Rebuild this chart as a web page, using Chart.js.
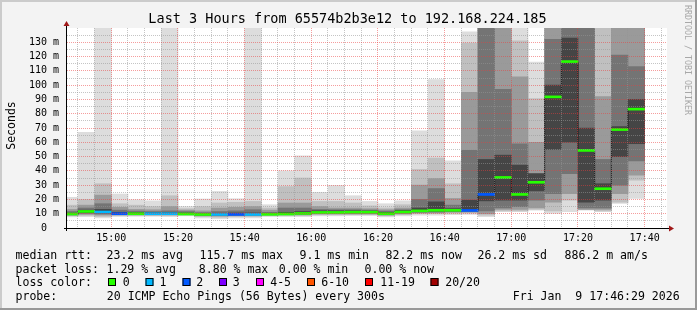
<!DOCTYPE html>
<html><head><meta charset="utf-8">
<script src="https://cdn.jsdelivr.net/npm/chart.js@4.4.1/dist/chart.umd.min.js"></script>
<style>html,body{margin:0;padding:0;background:#f3f3f3;overflow:hidden}canvas{display:block}</style>
</head><body>
<canvas id="c" width="697" height="310"></canvas>
<script>
// ---- data ----
const times = ['14:50','14:55','15:00','15:05','15:10','15:15','15:20','15:25','15:30','15:35','15:40','15:45',
  '15:50','15:55','16:00','16:05','16:10','16:15','16:20','16:25','16:30','16:35','16:40','16:45',
  '16:50','16:55','17:00','17:05','17:10','17:15','17:20','17:25','17:30','17:35','17:40'];
const minRtt = [7.8,8.0,7.0,8.0,8.2,8.2,8.0,8.5,7.0,6.5,7.0,7.0,8.0,8.0,8.0,8.5,8.5,8.7,8.7,7.8,8.5,9.0,9.0,9.3,9.5,8.0,11.4,11.4,12.5,10.2,11.4,12.5,11.4,17.2,20.7];
const lo1 = [8.5,8.8,8.0,8.8,8.8,8.8,8.8,9.0,8.0,7.5,8.0,8.0,8.6,8.8,8.7,9.2,9.2,9.3,9.3,8.5,9.3,10.0,10.0,10.3,10.3,9.0,12.0,12.0,13.0,12.0,19.5,12.8,12.0,18.0,33.5];
const lo2 = [9.0,9.5,9.0,9.2,9.2,9.2,9.2,9.3,8.5,8.3,8.6,8.6,9.0,9.2,9.2,9.8,9.8,9.8,9.8,9.0,9.9,10.5,10.6,11.0,11.0,10.0,13.0,13.0,14.0,18.0,24.0,13.0,13.0,24.0,37.0];
const lo3 = [9.3,10.2,9.8,9.6,9.6,9.6,9.5,9.5,8.9,8.8,9.0,9.0,9.3,9.5,9.6,10.3,10.3,10.3,10.3,9.4,10.4,11.0,11.2,11.5,11.6,12.0,14.0,15.0,19.5,24.0,38.0,14.0,14.0,30.0,47.0];
const lo4 = [9.6,10.8,10.5,9.8,9.8,9.8,9.8,9.7,9.2,9.2,9.3,9.3,9.5,9.7,10.0,10.7,10.7,10.8,10.8,9.7,10.8,11.5,11.8,12.0,12.0,19.0,19.5,19.5,26.0,55.0,60.0,18.0,19.5,50.0,59.0];
const median = [9.8,11.6,11.2,10.0,10.0,10.0,10.0,9.8,9.5,9.5,9.5,9.5,9.6,9.8,10.2,10.9,10.9,11.1,11.1,10.0,11.2,12.0,12.4,12.4,12.3,23.5,35.4,23.5,32.0,91.8,116.5,54.3,27.5,68.9,83.2];
const hi4 = [10.4,12.5,13.0,11.0,10.8,10.8,10.8,10.5,10.0,10.3,10.5,10.5,10.3,11.0,11.5,12.0,12.0,12.0,11.8,11.0,12.2,14.0,18.3,13.5,19.5,48.0,51.0,44.0,38.0,100.0,133.0,70.0,31.0,71.0,90.0];
const hi3 = [11.5,14.0,17.0,12.5,11.8,11.5,12.0,11.5,10.8,11.5,12.0,12.8,11.0,14.0,14.0,13.0,12.8,12.8,12.5,11.8,12.8,20.0,27.6,16.0,54.4,148.0,97.0,59.0,38.2,132.0,148.0,148.0,48.0,121.0,113.0];
const hi2 = [13.0,16.0,23.0,14.5,13.0,12.8,15.0,12.5,12.0,14.0,14.5,15.0,12.5,17.5,17.5,15.0,14.0,14.0,13.5,12.8,14.0,30.0,34.6,20.7,95.0,149.0,148.0,105.8,60.0,148.5,149.0,149.0,92.0,148.0,148.0];
const hi1 = [16.0,20.0,31.0,17.0,16.0,15.0,22.6,13.5,15.0,17.5,18.0,18.6,14.0,29.0,35.0,18.6,18.6,17.5,15.5,14.0,16.3,41.0,49.0,31.0,129.5,149.5,149.0,131.0,90.6,149.0,149.5,149.5,149.0,149.0,149.0];
const maxRtt = [21.5,67.0,150.0,23.8,19.8,19.0,150.0,15.0,20.3,25.6,20.5,150.0,16.3,40.0,50.6,25.0,29.8,22.6,18.6,17.0,19.0,68.0,103.9,47.0,137.3,150.0,150.0,150.0,116.2,150.0,150.0,150.0,150.0,150.0,150.0];
const lossIdx = [0,0,1,2,0,1,1,0,0,1,2,1,0,0,0,0,0,0,0,0,0,0,0,0,2,2,0,0,0,0,0,0,0,0,0];
const lossLabels = ['0','1','2','3','4-5','6-10','11-19','20/20'];
const lossColors = ['#26ff00','#00b8ff','#0059ff','#7e00ff','#ff00ff','#ff5500','#ff0000','#a10000'];
const xTickLabels = ['15:00','15:20','15:40','16:00','16:20','16:40','17:00','17:20','17:40'];
const yTickLabels = ['0  ','10 m','20 m','30 m','40 m','50 m','60 m','70 m','80 m','90 m','100 m','110 m','120 m','130 m'];
const titleText = 'Last 3 Hours from 65574b2b3e12 to 192.168.224.185';
const rowRtt = ['median rtt:','23.2 ms avg','115.7 ms max','9.1 ms min','82.2 ms now','26.2 ms sd','886.2 m am/s'];
const rowLoss = ['packet loss:','1.29 % avg','8.80 % max','0.00 % min','0.00 % now'];
const rowProbe = ['probe:','20 ICMP Echo Pings (56 Bytes) every 300s','Fri Jan  9 17:46:29 2026'];

// ---- layout / style ----
const MONO = '"DejaVu Sans Mono", monospace';
const X_MIN = 886.7, X_MAX = 1066.7, Y_MAX = 140;
const MAJ = 'rgba(235,60,60,0.5)', MIN = 'rgba(150,150,150,0.55)';
const bandColors = ['#dddddd','#c0c0c0','#9a9a9a','#747474','#454545'];

const toMin = s => { const p = s.split(':').map(Number); return p[0]*60 + p[1]; };
const fmt = v => String(Math.floor(v/60)).padStart(2,'0') + ':' + String(v%60).padStart(2,'0');
const tEnd = times.map(toMin);
const ctr = tEnd.map(t => t - 2.5);

function band(lo, hi, color, order) {
  return { type:'bar', data: ctr.map((x,k)=>({x, y:[lo[k], hi[k]]})), backgroundColor: color,
    borderWidth:0, grouped:false, barPercentage:1, categoryPercentage:1, order };
}
const datasets = [
  band(minRtt, maxRtt, bandColors[0], 7),
  band(lo1, hi1, bandColors[1], 6),
  band(lo2, hi2, bandColors[2], 5),
  band(lo3, hi3, bandColors[3], 4),
  band(lo4, hi4, bandColors[4], 3),
  { type:'line', data: tEnd.map((x,k)=>({x, y: median[k]})), stepped:'after', borderColor:'#202020',
    borderWidth:1, pointRadius:0, fill:false, order:2 },
  { type:'bar', data: ctr.map((x,k)=>({x, y:[median[k]-0.7, median[k]+0.7]})),
    backgroundColor: lossIdx.map(i => lossColors[i]), borderWidth:0, grouped:false,
    barPercentage:1, categoryPercentage:1, order:1 }
];

const deco = {
  id:'deco',
  beforeDraw(chart) {
    const {ctx, chartArea:a} = chart;
    ctx.save();
    ctx.fillStyle = '#f3f3f3'; ctx.fillRect(0,0,697,310);
    ctx.fillStyle = '#cbcbcb'; ctx.fillRect(0,0,697,2); ctx.fillRect(0,0,2,310);
    ctx.fillStyle = '#999999'; ctx.fillRect(0,308,697,2); ctx.fillRect(695,0,2,310);
    ctx.fillStyle = '#ffffff'; ctx.fillRect(a.left, a.top, a.right-a.left, a.bottom-a.top);
    ctx.restore();
  },
  afterDatasetsDraw(chart) {
    // dotted grid on top of the smoke, at the scales' own tick positions
    const {ctx, chartArea:a, scales:{x, y}} = chart;
    ctx.save();
    ctx.lineWidth = 1; ctx.setLineDash([1,1]);
    for (let v = Math.ceil(X_MIN/5)*5; v < X_MAX; v += 5) {
      const px = Math.floor(x.getPixelForValue(v)) + 0.5;
      ctx.strokeStyle = v % 20 === 0 ? MAJ : MIN;
      ctx.beginPath(); ctx.moveTo(px, a.top); ctx.lineTo(px, a.bottom); ctx.stroke();
    }
    for (let v = 5; v < Y_MAX; v += 5) {
      const py = Math.round(y.getPixelForValue(v) - 0.5) + 0.5;
      ctx.strokeStyle = v % 10 === 0 ? MAJ : MIN;
      ctx.beginPath(); ctx.moveTo(a.left, py); ctx.lineTo(a.right, py); ctx.stroke();
    }
    ctx.restore();
  },
  afterDraw(chart) {
    const {ctx, chartArea:a} = chart;
    ctx.save();
    ctx.strokeStyle = '#000'; ctx.lineWidth = 1;
    ctx.beginPath();
    ctx.moveTo(a.left - 0.5, a.bottom + 3); ctx.lineTo(a.left - 0.5, a.top - 3);
    ctx.moveTo(a.left - 3, a.bottom + 0.5); ctx.lineTo(a.right + 3, a.bottom + 0.5);
    ctx.stroke();
    ctx.fillStyle = '#a01818';
    ctx.beginPath();
    ctx.moveTo(a.left - 0.5, a.top - 7); ctx.lineTo(a.left - 3.5, a.top - 2); ctx.lineTo(a.left + 2.5, a.top - 2); ctx.closePath(); ctx.fill();
    ctx.beginPath();
    ctx.moveTo(a.right + 7, a.bottom + 0.5); ctx.lineTo(a.right + 2, a.bottom - 2.5); ctx.lineTo(a.right + 2, a.bottom + 3.5); ctx.closePath(); ctx.fill();
    ctx.fillStyle = '#000';
    ctx.textBaseline = 'alphabetic';
    ctx.font = '13.5px ' + MONO; ctx.textAlign = 'center';
    ctx.fillText(titleText, 347.5, 23.3);
    ctx.save(); ctx.translate(14.5, 125.5); ctx.rotate(-Math.PI/2);
    ctx.font = '11.5px ' + MONO; ctx.fillText('Seconds', 0, 0); ctx.restore();
    ctx.save(); ctx.translate(685, 60); ctx.rotate(Math.PI/2);
    ctx.fillStyle = '#a8a8a8'; ctx.font = '8.3px ' + MONO; ctx.fillText('RRDTOOL / TOBI OETIKER', 0, 0); ctx.restore();
    ctx.textAlign = 'left'; ctx.font = '11.55px ' + MONO; ctx.fillStyle = '#000';
    const r1x = [15.5, 106.5, 199.5, 299.5, 385.5, 477.5, 564.5];
    rowRtt.forEach((s,i) => ctx.fillText(s, r1x[i], 258.5));
    const r2x = [15.5, 106.5, 198.8, 278.8, 364.5];
    rowLoss.forEach((s,i) => ctx.fillText(s, r2x[i], 272.5));
    ctx.fillText('loss color:', 15.5, 286.2);
    const boxX = [108, 145.5, 182.5, 219, 256, 307, 365, 430.5];
    const labX = [122.8, 159.5, 196.2, 232.8, 270.2, 321.2, 380.2, 445.2];
    lossLabels.forEach((s,i) => {
      ctx.fillStyle = lossColors[i]; ctx.fillRect(boxX[i], 278, 8, 8);
      ctx.strokeStyle = '#000'; ctx.strokeRect(boxX[i] + 0.5, 278.5, 7, 7);
      ctx.fillStyle = '#000'; ctx.fillText(s, labX[i], 286.2);
    });
    const r4x = [15.5, 106.8, 512.8];
    rowProbe.forEach((s,i) => ctx.fillText(s, r4x[i], 300.2));
    ctx.restore();
  }
};

new Chart(document.getElementById('c'), {
  type:'bar',
  data:{ datasets },
  options:{
    responsive:false, animation:false, devicePixelRatio:1, events:[],
    layout:{ padding:{ top:28, right:30, left:0, bottom:0 } },
    plugins:{ legend:{display:false}, tooltip:{enabled:false}, title:{display:false} },
    scales:{
      x:{ type:'linear', min:X_MIN, max:X_MAX, offset:false,
        afterBuildTicks: s => { s.ticks = []; for (let v = Math.ceil(X_MIN/5)*5; v < X_MAX; v += 5) s.ticks.push({value:v}); },
        afterFit: s => { s.height = 82; },
        grid:{ display:false, offset:false, drawTicks:false },
        border:{ display:false },
        ticks:{ autoSkip:false, maxRotation:0, minRotation:0, padding:4, color:'#000',
          font:{ family:MONO, size:10 },
          callback: v => { const l = fmt(Math.round(v)); return xTickLabels.includes(l) ? l : ''; } }
      },
      y:{ min:0, max:Y_MAX,
        afterBuildTicks: s => { s.ticks = []; for (let v = 0; v < Y_MAX; v += 10) s.ticks.push({value:v}); },
        afterFit: s => { s.width = 67; },
        grid:{ display:false, drawTicks:false },
        border:{ display:false },
        ticks:{ padding:8, color:'#000', font:{ family:MONO, size:10 },
          callback: v => yTickLabels[Math.round(v/10)] || '' }
      }
    }
  },
  plugins:[deco]
});
</script>
</body></html>
